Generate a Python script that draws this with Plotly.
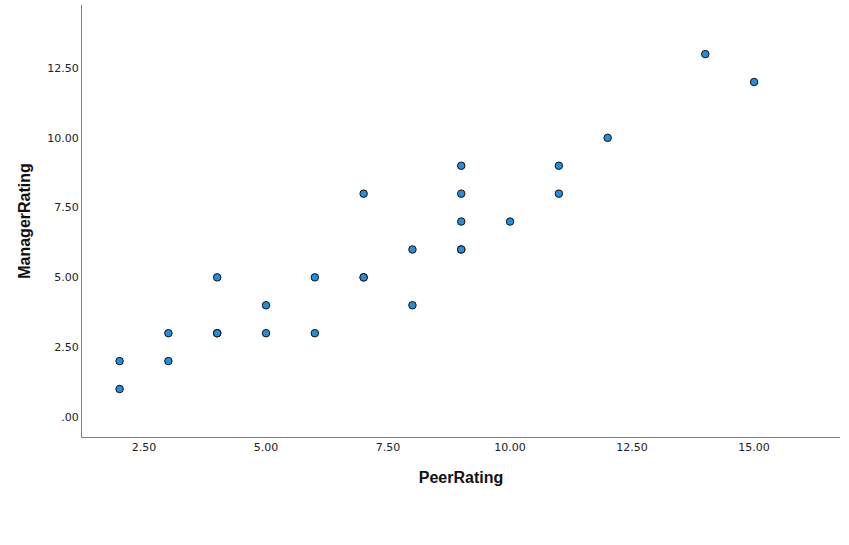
import plotly.graph_objects as go

peer_rating = [2, 2, 3, 3, 4, 4, 4, 5, 5, 6, 6, 7, 7, 7, 8, 8, 9, 9, 9, 9, 9, 10, 11, 11, 12, 14, 15]
manager_rating = [2, 1, 3, 2, 5, 3, 3, 4, 3, 5, 3, 8, 5, 5, 6, 4, 9, 8, 7, 6, 6, 7, 9, 8, 10, 13, 12]

x_tickvals = [2.5, 5, 7.5, 10, 12.5, 15]
x_ticktext = ["2.50", "5.00", "7.50", "10.00", "12.50", "15.00"]
y_tickvals = [0, 2.5, 5, 7.5, 10, 12.5]
y_ticktext = [".00", "2.50", "5.00", "7.50", "10.00", "12.50"]

fig = go.Figure(go.Scatter(
    x=peer_rating, y=manager_rating, mode="markers",
    marker=dict(size=7.5, color="#1f8fe3", line=dict(color="#111111", width=1)),
    showlegend=False,
))

axis_common = dict(
    showgrid=False, zeroline=False, showline=True, linecolor="#7f7f7f", linewidth=1,
    ticks="", automargin=False,
    tickfont=dict(family="DejaVu Sans", size=11, color="#222222"),
)

fig.update_layout(
    width=849, height=545,
    margin=dict(l=82, r=9, t=5, b=108),
    paper_bgcolor="white", plot_bgcolor="white",
    xaxis=dict(range=[1.23, 16.76], tickvals=x_tickvals, ticktext=x_ticktext,
               title=dict(text="<b>PeerRating</b>", font=dict(family="Liberation Sans Narrow, Arial", size=16, color="#111111"), standoff=18),
               **axis_common),
    yaxis=dict(range=[-0.72, 14.76], tickvals=y_tickvals, ticktext=y_ticktext,
               title=dict(text="<b>ManagerRating</b>", font=dict(family="Liberation Sans Narrow, Arial", size=16, color="#111111"), standoff=12),
               **axis_common),
)

fig.write_html("out.html", config={"displayModeBar": False},
               post_script="document.body.style.margin='0';")
